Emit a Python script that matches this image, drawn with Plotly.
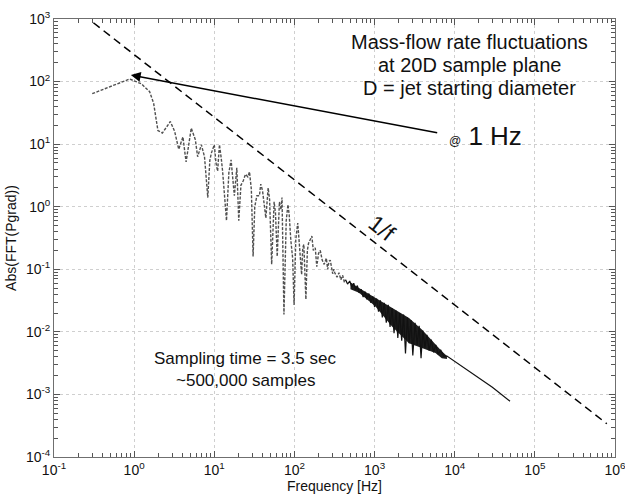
import plotly.graph_objects as go

# ---- data ----
freq_lo = [0.30, 0.88, 1.23, 1.56, 1.75, 1.98, 2.25, 2.83, 3.2, 3.6, 4.06, 4.45, 5.16, 5.8, 6.2,
           6.9, 7.55, 8.3, 8.8, 9.2, 10.0, 10.5, 11.0, 11.6, 12.2, 12.7, 14.2, 15.2, 16.2, 17.0,
           17.8, 19.1, 20.2, 21.5, 23.0, 24.5, 26.2, 27.5, 29.0, 30.5, 32.0, 34.0, 36.6, 38.0,
           40.0, 44.0, 47.0, 49.0, 52.0, 55.8, 58.0, 61.0, 65.0, 68.0, 70.0, 74.0, 79.0, 83.0,
           86.0, 90.0, 95.0, 99.0, 104, 110, 116, 123, 127, 131, 139, 145, 150, 158, 165, 172,
           182, 190, 200, 210, 222, 235, 250, 260, 270, 280, 290, 300, 310, 320, 340, 360, 380,
           400, 420, 435]
amp_lo = [64, 110, 92, 69, 45, 16.5, 15, 23, 16, 8.3, 13, 5.2, 18, 11.8, 6.3,
          9.8, 6.3, 1.4, 5.5, 7.2, 9.8, 5.0, 3.7, 9.8, 6.0, 3.7, 0.6, 3.5, 5.6, 3.0,
          1.5, 4.2, 0.6, 2.2, 2.6, 3.3, 3.0, 3.6, 1.9, 0.16, 1.0, 1.5, 1.5, 2.3,
          1.8, 0.66, 2.0, 1.3, 0.12, 1.2, 0.8, 0.16, 1.2, 0.9, 1.4, 0.019, 0.6, 1.08,
          0.75, 0.3, 0.15, 0.027, 0.3, 0.55, 0.2, 0.082, 0.22, 0.25, 0.033, 0.2, 0.26, 0.3, 0.34, 0.2,
          0.22, 0.11, 0.18, 0.2, 0.14, 0.12, 0.15, 0.1, 0.134, 0.14, 0.1, 0.085, 0.1, 0.087,
          0.075, 0.088, 0.068, 0.08, 0.062, 0.068]

freq_hi = [435, 460, 490, 520, 550, 580, 610, 640, 680, 720, 760, 800, 850, 900, 950, 1000,
           1060, 1120, 1180, 1250, 1320, 1400, 1480, 1560, 1650, 1750, 1850, 1950, 2060, 2180,
           2300, 2430, 2570, 2700, 2850, 3000, 3200, 3400, 3600, 3800, 4000, 4250, 4500, 4800,
           5100, 5450, 5800, 6200, 6700, 7300, 8000, 9300, 11200, 13700, 20000, 29500, 49000]
amp_hi = [0.068, 0.058, 0.065, 0.052, 0.06, 0.047, 0.055, 0.042, 0.048, 0.036, 0.044, 0.033,
          0.041, 0.029, 0.037, 0.025, 0.034, 0.021, 0.032, 0.017, 0.029, 0.014, 0.027, 0.012,
          0.024, 0.0095, 0.022, 0.008, 0.02, 0.0072, 0.019, 0.0045, 0.017, 0.0066, 0.0155,
          0.0042, 0.014, 0.0062, 0.0125, 0.0038, 0.0105, 0.0056, 0.009, 0.005, 0.0075, 0.0047,
          0.0062, 0.0044, 0.0051, 0.0041, 0.0041, 0.0036, 0.003, 0.0025, 0.0018, 0.0013, 0.00078]

band_freq = [500, 640, 1020, 1650, 2690, 3920, 5750, 6900, 8000]
band_upper = [0.062, 0.05, 0.035, 0.024, 0.0166, 0.0108, 0.0062, 0.0049, 0.0041]
band_lower = [0.048, 0.042, 0.0256, 0.0122, 0.0066, 0.0055, 0.0046, 0.0038, 0.0037]

ref_freq = [0.31, 790000]
ref_amp = [870, 3.4e-4]

x_tickvals = [1e-1, 1e0, 1e1, 1e2, 1e3, 1e4, 1e5, 1e6]
x_ticktext = ["10<sup>-1</sup>", "10<sup>0</sup>", "10<sup>1</sup>", "10<sup>2</sup>",
              "10<sup>3</sup>", "10<sup>4</sup>", "10<sup>5</sup>", "10<sup>6</sup>"]
y_tickvals = [1e-4, 1e-3, 1e-2, 1e-1, 1e0, 1e1, 1e2, 1e3]
y_ticktext = ["10<sup>-4</sup>", "10<sup>-3</sup>", "10<sup>-2</sup>", "10<sup>-1</sup>",
              "10<sup>0</sup>", "10<sup>1</sup>", "10<sup>2</sup>", "10<sup>3</sup>"]

FONT = "Liberation Sans, Arial, Helvetica, sans-serif"

fig = go.Figure()
fig.add_trace(go.Scatter(x=band_freq, y=band_upper, mode="lines",
                         line=dict(color="rgba(0,0,0,0)", width=0), showlegend=False,
                         hoverinfo="skip"))
fig.add_trace(go.Scatter(x=band_freq, y=band_lower, mode="lines", fill="tonexty",
                         fillcolor="rgba(10,10,10,0.92)",
                         line=dict(color="rgba(0,0,0,0)", width=0), showlegend=False,
                         hoverinfo="skip"))
fig.add_trace(go.Scatter(x=freq_lo, y=amp_lo, mode="lines",
                         line=dict(color="#505050", width=1.4, dash="3px,1.5px"),
                         showlegend=False))
fig.add_trace(go.Scatter(x=freq_hi, y=amp_hi, mode="lines",
                         line=dict(color="#111111", width=1.2),
                         showlegend=False))
fig.add_trace(go.Scatter(x=ref_freq, y=ref_amp, mode="lines",
                         line=dict(color="black", width=1.5, dash="8px,5px"),
                         showlegend=False))
# invisible carrier so the minor-tick overlay axes are drawn
fig.add_trace(go.Scatter(x=ref_freq, y=ref_amp, mode="lines", xaxis="x2", yaxis="y2",
                         line=dict(color="rgba(0,0,0,0)", width=0), showlegend=False,
                         hoverinfo="skip"))


def minor_vals(lo, hi):
    return [m * 10.0 ** e for e in range(lo, hi) for m in range(2, 10)]


axis_common = dict(
    type="log", automargin=False,
    showline=True, linecolor="#6f6f6f", linewidth=1, mirror="allticks",
    ticks="inside", ticklen=6, tickcolor="#555555", tickwidth=1,
    showgrid=True, gridcolor="#cfcfcf", griddash="dot", gridwidth=1,
    zeroline=False, ticklabeloverflow="allow",
    tickfont=dict(family=FONT, size=14, color="#111111"),
)
minor_common = dict(
    type="log", automargin=False, showline=False, mirror="ticks",
    ticks="inside", ticklen=4, tickcolor="#555555", tickwidth=1,
    showgrid=False, zeroline=False, showticklabels=False,
)

fig.update_layout(
    xaxis=dict(range=[-1, 6], tickvals=x_tickvals, ticktext=x_ticktext, **axis_common,
               title=dict(text="Frequency [Hz]", font=dict(family=FONT, size=14, color="#111"),
                          standoff=2)),
    yaxis=dict(range=[-4, 3], tickvals=y_tickvals, ticktext=y_ticktext, **axis_common,
               title=dict(text="Abs(FFT(Pgrad))", font=dict(family=FONT, size=14, color="#111"),
                          standoff=6)),
    xaxis2=dict(range=[-1, 6], tickvals=minor_vals(-1, 6), overlaying="x", side="bottom",
                anchor="y2", **minor_common),
    yaxis2=dict(range=[-4, 3], tickvals=minor_vals(-4, 3), overlaying="y", side="left",
                anchor="x2", **minor_common),
)

ann = []
for txt, yp in [("Mass-flow rate fluctuations", 0.9475),
                ("at 20D sample plane", 0.895),
                ("D = jet starting diameter", 0.8425)]:
    ann.append(dict(xref="paper", yref="paper", x=0.7415, y=yp, text=txt, showarrow=False,
                    xanchor="center", yanchor="middle",
                    font=dict(family=FONT, size=20, color="#111")))
ann.append(dict(xref="paper", yref="paper", x=0.70, y=0.733,
                text="<span style='font-size:12px'>@</span> 1 Hz", showarrow=False,
                xanchor="left", yanchor="middle", font=dict(family=FONT, size=26, color="#111")))
ann.append(dict(xref="x", yref="y", x=-0.041, y=2.104, axref="x", ayref="y",
                ax=3.80, ay=1.176, text="", showarrow=True, arrowhead=2, arrowsize=1.3,
                arrowwidth=1.5, arrowcolor="black"))
ann.append(dict(xref="paper", yref="paper", x=0.5845, y=0.523, text="1/f", showarrow=False,
                textangle=38, font=dict(family=FONT, size=23, color="#111")))
ann.append(dict(xref="paper", yref="paper", x=0.341, y=0.1986, text="Sampling time = 3.5 sec",
                showarrow=False, font=dict(family=FONT, size=17, color="#111")))
ann.append(dict(xref="paper", yref="paper", x=0.341, y=0.148, text="~500,000 samples",
                showarrow=False, font=dict(family=FONT, size=17, color="#111")))

fig.update_layout(width=625, height=496, margin=dict(l=54, r=10, t=19, b=39),
                  paper_bgcolor="white", plot_bgcolor="white", annotations=ann,
                  font=dict(family=FONT))

fig.write_html("out.html")
